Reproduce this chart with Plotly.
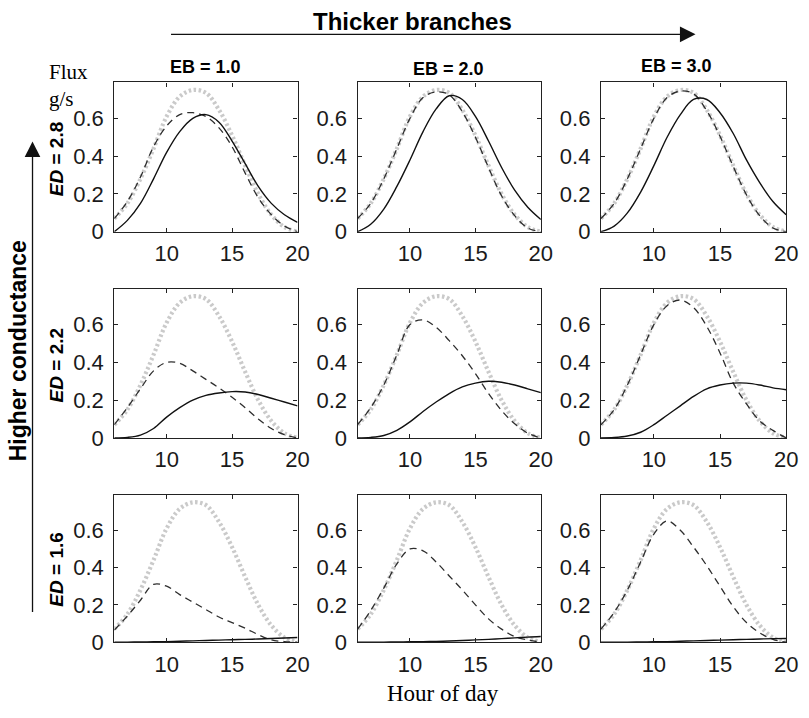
import plotly.graph_objects as go
from plotly.subplots import make_subplots

# ---------------- data ----------------
HOURS = [6, 7, 8, 9, 10, 11, 12, 13, 14, 15, 16, 17, 18, 19, 20]

# light grey dotted reference curve (same in every panel)
GRAY_FLUX = [0.07, 0.15, 0.28, 0.44, 0.61, 0.715, 0.75, 0.735, 0.645, 0.51, 0.35, 0.20, 0.09, 0.025, 0.0]

# row ED = 2.8
DASH_ED28_EB10 = [0.07, 0.16, 0.29, 0.45, 0.56, 0.62, 0.63, 0.61, 0.55, 0.45, 0.31, 0.18, 0.09, 0.03, 0.0]
SOLID_ED28_EB10 = [0.0, 0.06, 0.15, 0.28, 0.42, 0.53, 0.60, 0.62, 0.58, 0.48, 0.36, 0.24, 0.15, 0.09, 0.05]
DASH_ED28_EB20 = [0.07, 0.15, 0.28, 0.44, 0.60, 0.71, 0.74, 0.725, 0.635, 0.50, 0.34, 0.19, 0.085, 0.02, 0.0]
SOLID_ED28_EB20 = [0.0, 0.04, 0.12, 0.24, 0.38, 0.53, 0.65, 0.72, 0.70, 0.61, 0.48, 0.34, 0.22, 0.13, 0.065]
DASH_ED28_EB30 = [0.07, 0.15, 0.28, 0.44, 0.60, 0.71, 0.745, 0.73, 0.64, 0.505, 0.345, 0.195, 0.085, 0.02, 0.0]
SOLID_ED28_EB30 = [0.0, 0.03, 0.10, 0.21, 0.35, 0.50, 0.62, 0.70, 0.70, 0.63, 0.52, 0.38, 0.26, 0.16, 0.09]

# row ED = 2.2
DASH_ED22_EB10 = [0.07, 0.16, 0.26, 0.355, 0.40, 0.395, 0.355, 0.31, 0.265, 0.215, 0.16, 0.10, 0.05, 0.017, 0.0]
SOLID_ED22_EB10 = [0.0, 0.003, 0.015, 0.05, 0.11, 0.16, 0.20, 0.225, 0.238, 0.245, 0.243, 0.23, 0.21, 0.19, 0.17]
DASH_ED22_EB20 = [0.07, 0.16, 0.28, 0.44, 0.60, 0.625, 0.585, 0.515, 0.435, 0.34, 0.235, 0.145, 0.075, 0.025, 0.0]
SOLID_ED22_EB20 = [0.0, 0.003, 0.013, 0.04, 0.085, 0.14, 0.19, 0.235, 0.27, 0.29, 0.30, 0.295, 0.28, 0.26, 0.24]
DASH_ED22_EB30 = [0.07, 0.15, 0.28, 0.44, 0.60, 0.70, 0.73, 0.69, 0.59, 0.45, 0.29, 0.18, 0.09, 0.04, 0.0]
SOLID_ED22_EB30 = [0.0, 0.002, 0.01, 0.03, 0.07, 0.12, 0.17, 0.22, 0.26, 0.28, 0.29, 0.29, 0.28, 0.265, 0.255]

# row ED = 1.6
DASH_ED16_EB10 = [0.065, 0.14, 0.225, 0.31, 0.30, 0.255, 0.215, 0.175, 0.135, 0.105, 0.075, 0.04, 0.012, 0.003, 0.0]
SOLID_ED16_EB10 = [0.0, 0.0, 0.001, 0.002, 0.003, 0.005, 0.007, 0.009, 0.011, 0.013, 0.015, 0.017, 0.02, 0.022, 0.025]
DASH_ED16_EB20 = [0.07, 0.17, 0.29, 0.42, 0.50, 0.49, 0.43, 0.355, 0.28, 0.20, 0.125, 0.07, 0.03, 0.012, 0.0]
SOLID_ED16_EB20 = [0.0, 0.0, 0.0, 0.001, 0.002, 0.003, 0.004, 0.006, 0.009, 0.012, 0.015, 0.019, 0.023, 0.027, 0.03]
DASH_ED16_EB30 = [0.07, 0.16, 0.28, 0.43, 0.58, 0.65, 0.60, 0.51, 0.41, 0.30, 0.19, 0.105, 0.05, 0.015, 0.0]
SOLID_ED16_EB30 = [0.0, 0.0, 0.0, 0.001, 0.002, 0.003, 0.005, 0.007, 0.009, 0.011, 0.013, 0.015, 0.017, 0.019, 0.02]

ROW_LABELS = ["2.8", "2.2", "1.6"]
COL_LABELS = ["EB = 1.0", "EB = 2.0", "EB = 3.0"]
X_TICKS = [10, 15, 20]
Y_TICKS = [0, 0.2, 0.4, 0.6]
Y_TICK_TEXT = ["0", "0.2", "0.4", "0.6"]

PANELS = [
    [(DASH_ED28_EB10, SOLID_ED28_EB10), (DASH_ED28_EB20, SOLID_ED28_EB20), (DASH_ED28_EB30, SOLID_ED28_EB30)],
    [(DASH_ED22_EB10, SOLID_ED22_EB10), (DASH_ED22_EB20, SOLID_ED22_EB20), (DASH_ED22_EB30, SOLID_ED22_EB30)],
    [(DASH_ED16_EB10, SOLID_ED16_EB10), (DASH_ED16_EB20, SOLID_ED16_EB20), (DASH_ED16_EB30, SOLID_ED16_EB30)],
]

# ---------------- layout helpers ----------------
W, H = 809, 718
def PX(x):
    return x / W
def PY(y):
    return 1 - y / H

COL_PX = [(116, 302), (363, 549), (610, 798)]
ROW_PX = [(84, 236), (294, 446), (504, 654)]

SANS = "Liberation Sans, Arial, Helvetica, sans-serif"
SERIF = "Liberation Serif, Times New Roman, serif"

fig = make_subplots(rows=3, cols=3)

for r in range(3):
    for c in range(3):
        dash_vals, solid_vals = PANELS[r][c]
        fig.add_trace(go.Scatter(x=HOURS, y=GRAY_FLUX, mode="lines",
                                 line=dict(color="#cacaca", width=4.2, dash="2.5px,2.5px", shape="spline", smoothing=1.0),
                                 hoverinfo="skip", showlegend=False), row=r + 1, col=c + 1)
        fig.add_trace(go.Scatter(x=HOURS, y=dash_vals, mode="lines",
                                 line=dict(color="#2e2e2e", width=1.3, dash="7px,5px", shape="spline", smoothing=1.0),
                                 hoverinfo="skip", showlegend=False), row=r + 1, col=c + 1)
        fig.add_trace(go.Scatter(x=HOURS, y=solid_vals, mode="lines",
                                 line=dict(color="#111111", width=1.4, shape="spline", smoothing=1.0),
                                 hoverinfo="skip", showlegend=False), row=r + 1, col=c + 1)
        fig.update_xaxes(domain=[PX(COL_PX[c][0]), PX(COL_PX[c][1])], row=r + 1, col=c + 1)
        fig.update_yaxes(domain=[PY(ROW_PX[r][1]), PY(ROW_PX[r][0])], row=r + 1, col=c + 1)

fig.update_xaxes(range=[6, 20], tickvals=X_TICKS, ticks="inside", ticklen=4, tickcolor="#222",
                 showline=True, linecolor="#222", linewidth=1.2, mirror="ticks", showgrid=False,
                 zeroline=False, tickfont=dict(family=SANS, size=22, color="#1a1a1a"),
                 ticklabelstandoff=2)
fig.update_yaxes(range=[0, 0.79], tickvals=Y_TICKS, ticktext=Y_TICK_TEXT, ticks="inside", ticklen=4,
                 tickcolor="#222", showline=True, linecolor="#222", linewidth=1.2, mirror="ticks",
                 showgrid=False, zeroline=False, tickfont=dict(family=SANS, size=22, color="#1a1a1a"),
                 ticklabelstandoff=5)

ann = []
col_title_pos = [(209, 68), (455, 70), (687, 67)]
for lbl, (x, y) in zip(COL_LABELS, col_title_pos):
    ann.append(dict(text="<b>" + lbl + "</b>", x=PX(x), y=PY(y), xref="paper", yref="paper",
                    showarrow=False, font=dict(family=SANS, size=18, color="#000"),
                    xanchor="center", yanchor="middle"))
row_label_pos = [162, 372, 580]
for lbl, y in zip(ROW_LABELS, row_label_pos):
    ann.append(dict(text="<b><i>ED</i> = " + lbl + "</b>", x=PX(57), y=PY(y), xref="paper", yref="paper",
                    showarrow=False, textangle=-90, font=dict(family=SANS, size=19, color="#000"),
                    xanchor="center", yanchor="middle"))

ann.append(dict(text="<b>Thicker branches</b>", x=PX(419), y=PY(22), xref="paper", yref="paper",
                showarrow=False, font=dict(family=SANS, size=24, color="#000"),
                xanchor="center", yanchor="middle"))
ann.append(dict(text="<b>Higher conductance</b>", x=PX(18), y=PY(357), xref="paper", yref="paper",
                showarrow=False, textangle=-90, font=dict(family=SANS, size=23, color="#000"),
                xanchor="center", yanchor="middle"))
ann.append(dict(text="Flux", x=PX(70), y=PY(73), xref="paper", yref="paper", showarrow=False,
                font=dict(family=SERIF, size=21, color="#000"), xanchor="center", yanchor="middle"))
ann.append(dict(text="g/s", x=PX(62), y=PY(101), xref="paper", yref="paper", showarrow=False,
                font=dict(family=SERIF, size=21, color="#000"), xanchor="center", yanchor="middle"))
ann.append(dict(text="Hour of day", x=PX(450), y=PY(706), xref="paper", yref="paper", showarrow=False,
                font=dict(family=SERIF, size=23, color="#000"), xanchor="center", yanchor="middle"))

# arrows (tail offsets in pixels)
ann.append(dict(text="", x=PX(706), y=PY(35), ax=180 - 706, ay=0, xref="paper", yref="paper",
                axref="pixel", ayref="pixel", showarrow=True, arrowhead=2, arrowsize=2.4,
                arrowwidth=1.3, arrowcolor="#111", standoff=0, startstandoff=0))
ann.append(dict(text="", x=PX(33), y=PY(144), ax=0, ay=616 - 144, xref="paper", yref="paper",
                axref="pixel", ayref="pixel", showarrow=True, arrowhead=2, arrowsize=2.4,
                arrowwidth=1.3, arrowcolor="#111", standoff=0, startstandoff=0))

fig.update_layout(width=W, height=H, margin=dict(l=0, r=0, t=0, b=0),
                  paper_bgcolor="white", plot_bgcolor="white", annotations=ann,
                  showlegend=False)

fig.write_html("out.html")
